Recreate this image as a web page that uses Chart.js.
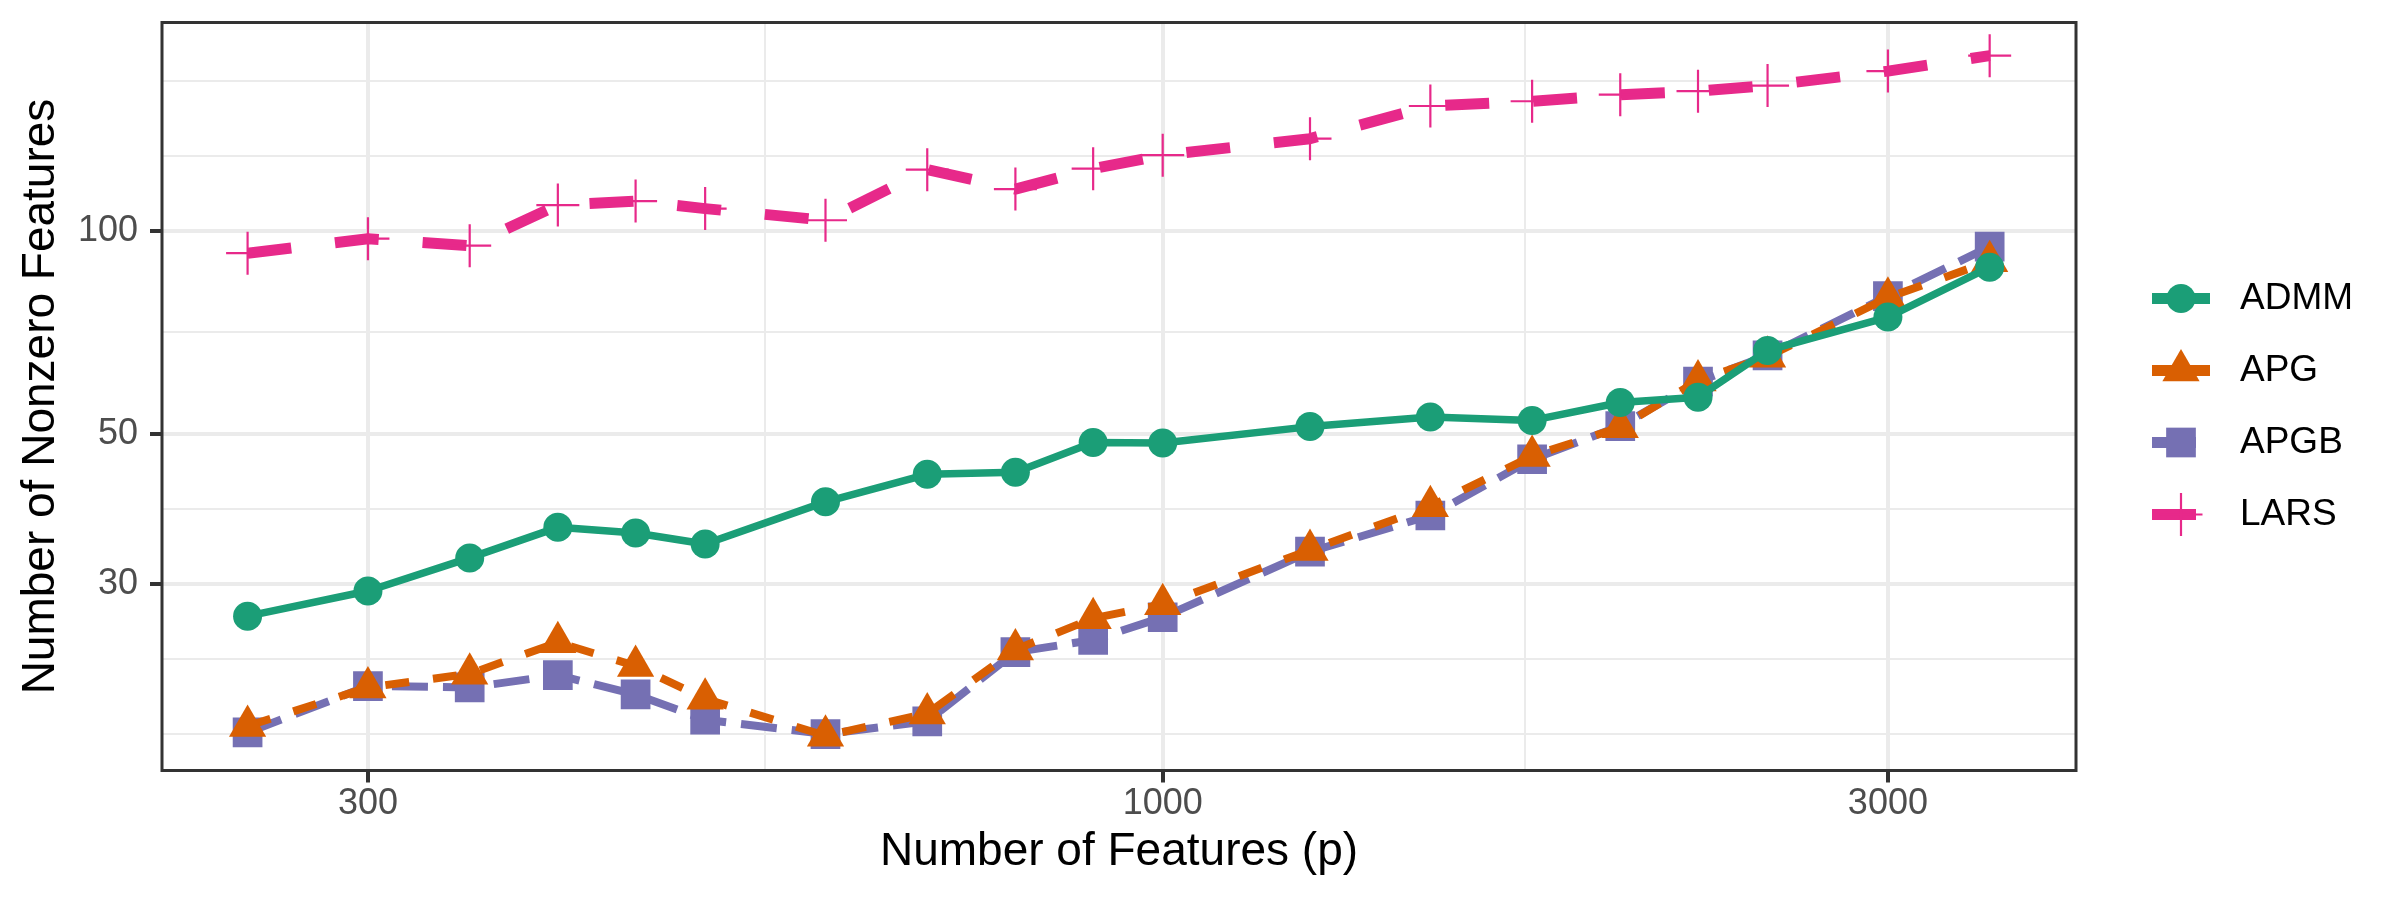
<!DOCTYPE html>
<html>
<head>
<meta charset="utf-8">
<script src="https://cdn.jsdelivr.net/npm/chart.js"></script>
<style>
  html, body { margin: 0; padding: 0; background: #ffffff; }
  canvas { display: block; }
</style>
</head>
<body>
<canvas id="chart" width="2400" height="900" style="width:2400px;height:900px"></canvas>
<script>
// number of features p (x, log scale)
var features = [250, 300, 350, 400, 450, 500, 600, 700, 800, 900, 1000, 1250, 1500, 1750, 2000, 2250, 2500, 3000, 3500];

// number of nonzero features per method (y, log scale)
var admm = [26.9, 29.3, 32.8, 36.4, 35.7, 34.4, 39.7, 43.6, 43.9, 48.6, 48.5, 51.3, 53.0, 52.4, 55.7, 56.7, 66.5, 74.5, 88.3];
var apg  = [18.5, 21.1, 22.1, 24.6, 22.7, 20.3, 17.9, 19.3, 24.0, 26.7, 28.0, 33.7, 39.1, 46.4, 51.2, 60.0, 65.1, 79.6, 90.1];
var apgb = [18.1, 21.2, 21.1, 22.0, 20.6, 18.9, 18.0, 18.8, 23.8, 24.8, 26.8, 33.5, 37.9, 45.9, 51.4, 59.8, 65.4, 80.0, 94.7];
var lars = [92.6, 97.3, 95.0, 109.1, 110.6, 107.8, 103.6, 123.1, 115.2, 123.5, 129.3, 136.8, 152.9, 155.4, 158.9, 160.8, 163.9, 172.2, 181.5];

// axis breaks (major get labels, minor only grid lines)
var xTicks = [300, 1000, 3000];
var xMinor = [547.7, 1732.1];
var yTicks = [30, 50, 100];
var yMinor = [18, 23.24, 38.73, 70.71, 129.1, 166.7];

var FONT = '"Liberation Sans", Arial, sans-serif';

function pts(values) {
  return features.map(function (p, i) { return { x: p, y: values[i] }; });
}

function series(label, values, color, dash, width, style, radius, pbw) {
  return {
    label: label,
    data: pts(values),
    borderColor: color,
    backgroundColor: color,
    borderWidth: width,
    borderDash: dash,
    borderCapStyle: 'butt',
    borderJoinStyle: 'round',
    tension: 0,
    fill: false,
    pointStyle: style,
    pointRadius: radius,
    pointHoverRadius: radius,
    pointBackgroundColor: color,
    pointBorderColor: color,
    pointBorderWidth: pbw
  };
}

function isMajor(list, v) {
  return list.indexOf(v) >= 0;
}

function drawMarker(ctx, style, x, y, r, color, bw) {
  ctx.fillStyle = color;
  ctx.strokeStyle = color;
  ctx.setLineDash([]);
  ctx.beginPath();
  if (style === 'circle') {
    ctx.arc(x, y, r, 0, Math.PI * 2);
    ctx.fill();
  } else if (style === 'triangle') {
    ctx.moveTo(x, y - r);
    ctx.lineTo(x + 0.866 * r, y + 0.5 * r);
    ctx.lineTo(x - 0.866 * r, y + 0.5 * r);
    ctx.closePath();
    ctx.fill();
  } else if (style === 'rect') {
    var s = r * Math.SQRT1_2;
    ctx.rect(x - s, y - s, 2 * s, 2 * s);
    ctx.fill();
  } else if (style === 'cross') {
    ctx.lineWidth = bw;
    ctx.moveTo(x - r, y); ctx.lineTo(x + r, y);
    ctx.moveTo(x, y - r); ctx.lineTo(x, y + r);
    ctx.stroke();
  }
}

// legend key line looks: solid for the first two, one long dash for the others
var keyDash = { ADMM: [], APG: [], APGB: [44, 100], LARS: [44, 100] };

// panel border and ggplot-like legend (line + marker keys)
var panelPlugin = {
  id: 'panel',
  afterDraw: function (chart) {
    var ctx = chart.ctx, a = chart.chartArea;
    ctx.save();
    ctx.strokeStyle = '#333333';
    ctx.lineWidth = 3;
    ctx.setLineDash([]);
    ctx.strokeRect(a.left, a.top, a.right - a.left, a.bottom - a.top);

    var y0 = a.top + 276, step = 72;
    chart.data.datasets.forEach(function (ds, i) {
      var y = y0 + i * step;
      ctx.beginPath();
      ctx.strokeStyle = ds.borderColor;
      ctx.lineWidth = 11;
      ctx.lineCap = 'butt';
      ctx.setLineDash(keyDash[ds.label]);
      ctx.moveTo(a.right + 76, y);
      ctx.lineTo(a.right + 134, y);
      ctx.stroke();
      drawMarker(ctx, ds.pointStyle, a.right + 105, y, ds.pointRadius, ds.borderColor, ds.pointBorderWidth);
      ctx.fillStyle = '#000000';
      ctx.font = '37px ' + FONT;
      ctx.textAlign = 'left';
      ctx.textBaseline = 'middle';
      ctx.fillText(ds.label, a.right + 164, y);
    });
    ctx.restore();
  }
};

new Chart(document.getElementById('chart'), {
  type: 'line',
  data: {
    datasets: [
      series('ADMM', admm, '#1B9E77', [], 7.5, 'circle', 14.5, 0),
      series('APG', apg, '#D95F02', [24, 24], 8, 'triangle', 21.5, 0),
      series('APGB', apgb, '#7570B3', [36, 15], 8, 'rect', 21, 0),
      series('LARS', lars, '#E7298A', [44, 44], 11, 'cross', 21.5, 2.2)
    ]
  },
  options: {
    responsive: false,
    animation: false,
    devicePixelRatio: 1,
    layout: { autoPadding: false, padding: { left: 0, top: 22.5, right: 324, bottom: 0 } },
    plugins: {
      legend: { display: false },
      tooltip: { enabled: false }
    },
    scales: {
      x: {
        type: 'logarithmic',
        min: 219.6,
        max: 3989,
        afterFit: function (s) { s.height = 129.5; },
        afterBuildTicks: function (s) {
          s.ticks = xTicks.concat(xMinor).sort(function (a, b) { return a - b; })
            .map(function (v) { return { value: v }; });
        },
        ticks: {
          autoSkip: false,
          maxRotation: 0,
          padding: 0,
          color: '#4D4D4D',
          font: { family: FONT, size: 36 },
          callback: function (v) { return isMajor(xTicks, v) ? String(v) : ''; }
        },
        grid: {
          color: '#EBEBEB',
          lineWidth: function (c) { return isMajor(xTicks, c.tick.value) ? 4 : 2; },
          tickLength: 12,
          tickWidth: 4,
          tickColor: function (c) { return isMajor(xTicks, c.tick.value) ? '#333333' : 'rgba(0,0,0,0)'; }
        },
        border: { display: false },
        title: {
          display: true,
          text: 'Number of Features (p)',
          color: '#000000',
          font: { family: FONT, size: 46, lineHeight: 1 },
          padding: { top: 0, bottom: 25 }
        }
      },
      y: {
        type: 'logarithmic',
        min: 15.9,
        max: 203.2,
        afterFit: function (s) { s.width = 162; },
        afterBuildTicks: function (s) {
          s.ticks = yTicks.concat(yMinor).sort(function (a, b) { return a - b; })
            .map(function (v) { return { value: v }; });
        },
        ticks: {
          autoSkip: false,
          padding: 12,
          color: '#4D4D4D',
          font: { family: FONT, size: 36, lineHeight: 0.5 },
          callback: function (v) { return isMajor(yTicks, v) ? String(v) : ''; }
        },
        grid: {
          color: '#EBEBEB',
          lineWidth: function (c) { return isMajor(yTicks, c.tick.value) ? 4 : 2; },
          tickLength: 12,
          tickWidth: 4,
          tickColor: function (c) { return isMajor(yTicks, c.tick.value) ? '#333333' : 'rgba(0,0,0,0)'; }
        },
        border: { display: false },
        title: {
          display: true,
          text: 'Number of Nonzero Features',
          color: '#000000',
          font: { family: FONT, size: 46, lineHeight: 1 },
          padding: { top: 18.7, bottom: 0 }
        }
      }
    }
  },
  plugins: [panelPlugin]
});
</script>
</body>
</html>
